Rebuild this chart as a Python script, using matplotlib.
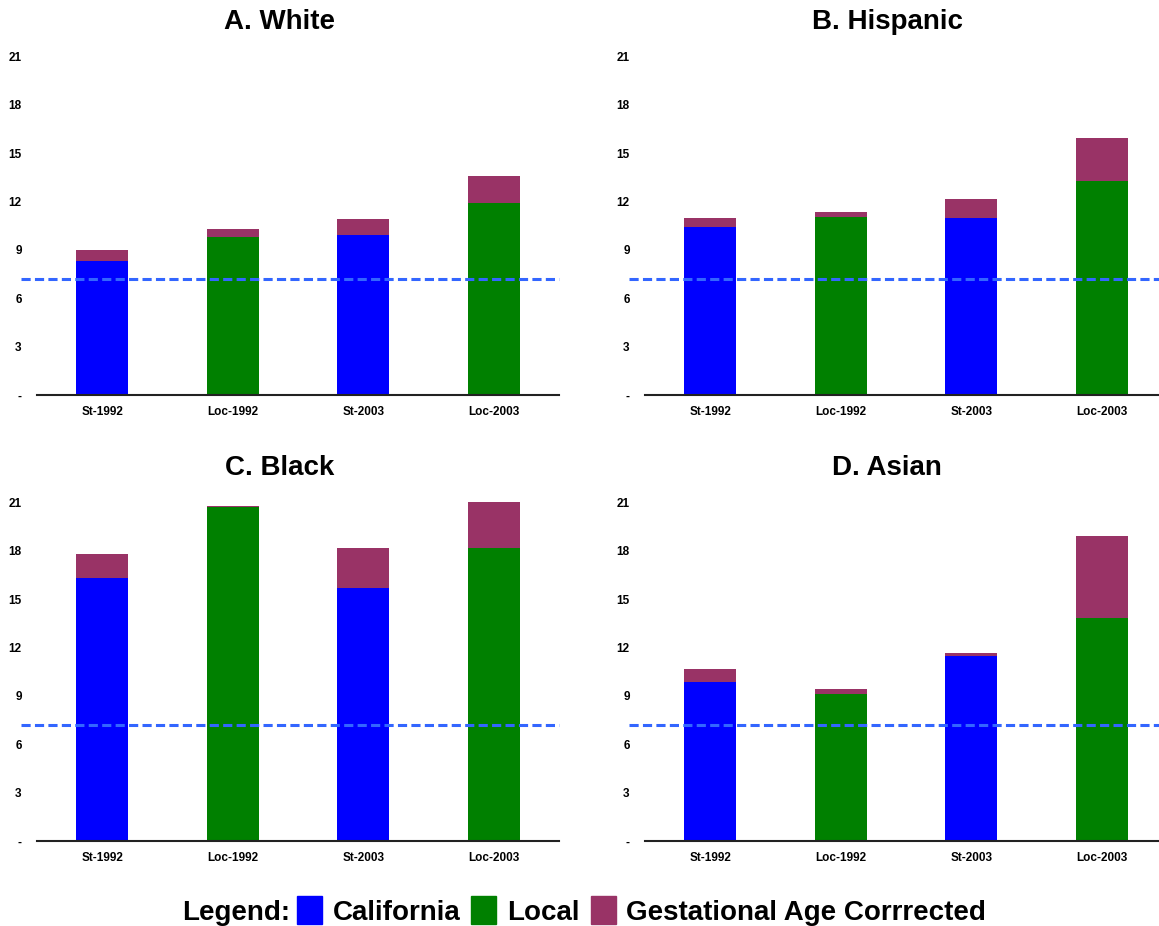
import matplotlib
matplotlib.use("Agg")
import matplotlib.pyplot as plt
from matplotlib.patches import Patch

plt.rcParams['font.family'] = ['Liberation Sans', 'DejaVu Sans']
plt.rcParams['font.weight'] = 'bold'

categories = ["St-1992", "Loc-1992", "St-2003", "Loc-2003"]
base_colors = ["#0000ff", "#008000", "#0000ff", "#008000"]
gac_color = "#993366"
ref_line = 7.2

panel_titles = ["A. White", "B. Hispanic", "C. Black", "D. Asian"]

# base rates (state / local) and the extra from gestational age correction
white_base = [8.3, 9.8, 9.9, 11.9]
white_gac = [0.7, 0.5, 1.0, 1.7]
hispanic_base = [10.4, 11.05, 10.95, 13.25]
hispanic_gac = [0.6, 0.3, 1.2, 2.7]
black_base = [16.3, 20.7, 15.7, 18.2]
black_gac = [1.5, 0.1, 2.45, 2.85]
asian_base = [9.85, 9.1, 11.45, 13.85]
asian_gac = [0.8, 0.35, 0.2, 5.05]

yticks = [0, 3, 6, 9, 12, 15, 18, 21]
ytick_labels = ["-", "3", "6", "9", "12", "15", "18", "21"]

W, H = 1159, 926
fig = plt.figure(figsize=(W / 100, H / 100), dpi=100)

ymax = 22
ax_h = ymax * 16.12
lefts = [37, 645]
bottoms = [395, 841]
ax_w = 522

panels = [(white_base, white_gac), (hispanic_base, hispanic_gac),
          (black_base, black_gac), (asian_base, asian_gac)]

for i, (base, gac) in enumerate(panels):
    row, col = divmod(i, 2)
    left = lefts[col]
    bottom = bottoms[row]
    ax = fig.add_axes([left / W, (H - bottom) / H, ax_w / W, ax_h / H])
    x = range(len(categories))
    ax.bar(x, base, width=0.4, color=base_colors, zorder=2)
    ax.bar(x, gac, width=0.4, bottom=base, color=gac_color, zorder=2)
    ax.axhline(ref_line, xmin=-0.031, xmax=1, color="#3366ff", lw=2.2,
               dashes=(3, 1.4), clip_on=False, zorder=3)
    ax.set_xlim(-0.5, 3.5)
    ax.set_ylim(0, ymax)
    ax.set_xticks(list(x))
    ax.set_xticklabels(categories, fontsize=8.5, fontweight='bold')
    ax.set_yticks(yticks)
    ax.set_yticklabels(ytick_labels, fontsize=8.5, fontweight='bold')
    ax.tick_params(length=0)
    ax.tick_params(axis='y', pad=11)
    ax.tick_params(axis='x', pad=8)
    for s in ["top", "right", "left"]:
        ax.spines[s].set_visible(False)
    ax.spines["bottom"].set_linewidth(1.5)
    ax.spines["bottom"].set_color("#222222")
    ax.set_facecolor("none")

    title_x = [280, 887][col]
    title_y = [22, 468][row]
    fig.text(title_x / W, (H - title_y) / H, panel_titles[i], ha='center',
             va='center', fontsize=20, fontweight='bold')

# legend row
leg_y = 0.0165
fig.text(290 / W, leg_y - 0.0025, "Legend:", ha='right', va='center',
         fontsize=20, fontweight='bold')
handles = [Patch(color="#0000ff"), Patch(color="#008000"), Patch(color=gac_color)]
fig.legend(handles, ["California", "Local", "Gestational Age Corrrected"],
           loc='center left', bbox_to_anchor=(297 / W, leg_y), ncol=3,
           frameon=False, borderpad=0, borderaxespad=0,
           prop={'size': 20, 'weight': 'bold'},
           handlelength=0.9, handleheight=1.2, handletextpad=0.38,
           columnspacing=0.4)

fig.savefig("out.png", dpi=100)
